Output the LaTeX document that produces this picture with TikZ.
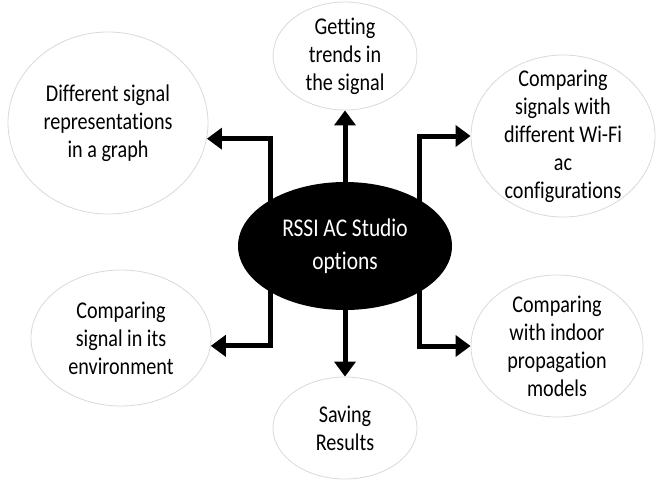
\documentclass[tikz,border=0pt]{standalone}
\usepackage{fontspec}
\setmainfont{Carlito}[FakeStretch=0.84,Ligatures=NoCommon]
\usetikzlibrary{shapes.geometric,arrows.meta}

\tikzset{
  option/.style={ellipse,draw=gray!30,line width=0.8pt,inner sep=0pt},
  optiontext/.style={align=center,font=\fontsize{24}{28}\selectfont},
  link/.style={line width=5pt,-{Triangle[length=15pt,width=21pt]},shorten <=-3pt},
}

\begin{document}
\begin{tikzpicture}[x=1pt,y=-1pt]
  \useasboundingbox (0,0) rectangle (660,479);
  \node[ellipse,fill=black,minimum width=214pt,minimum height=128pt,align=center,
        text=white,font=\fontsize{25.5}{33}\selectfont] (rssi) at (345,246) {RSSI AC Studio\\options};
  % the six options round the centre
  \foreach \name/\x/\y/\w/\h/\txt in {
      graph/108/123/200/182/{Different signal\\representations\\in a graph},
      trends/345/56/144/108/{Getting\\trends in\\the signal},
      wifi/563/136/184/162/{Comparing\\signals with\\different Wi-Fi\\ac\\configurations},
      env/121/338/180/136/{Comparing\\signal in its\\environment},
      save/345/428/144/102/{Saving\\Results},
      indoor/557/346/172/142/{Comparing\\with indoor\\propagation\\models}} {
    \node[option,minimum width=\w pt,minimum height=\h pt,
          label={[optiontext]center:\txt}] (\name) at (\x,\y) {};
  }
  \draw[link] (rssi.148) |- (graph.-9);
  \draw[link] (rssi.north) -- (trends.south);
  \draw[link] (rssi.32) |- (wifi.west);
  \draw[link] (rssi.212) |- (env.-5);
  \draw[link] (rssi.south) -- (save.north);
  \draw[link] (rssi.328) |- (indoor.west);
\end{tikzpicture}
\end{document}
